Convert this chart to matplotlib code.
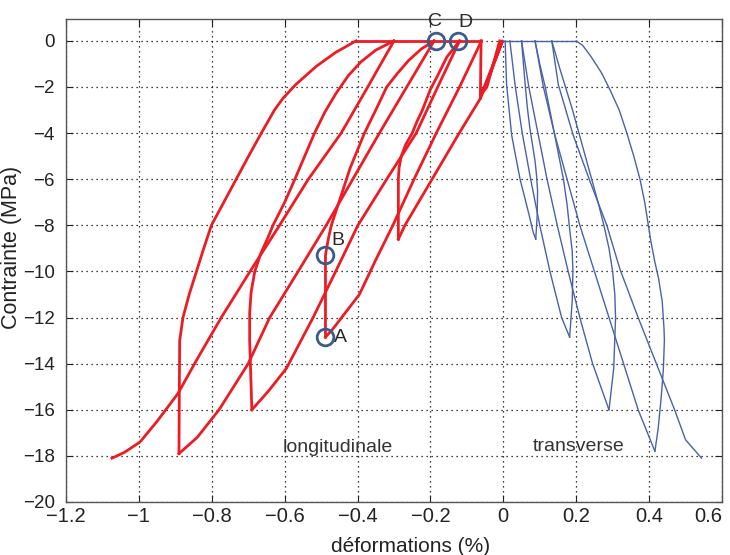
import matplotlib
matplotlib.use("Agg")
import matplotlib.pyplot as plt

# longitudinal strain (%) / stress (MPa), one list per branch
lg_small_x = [-0.061, -0.063, -0.040, -0.002, -0.030, -0.060, -0.045, -0.010]
lg_small_y = [0, -2.5, -1.6, 0, -1.1, -2.3, -2.0, 0]
lg_flat_x = [-0.404, -0.061]
lg_flat_y = [0, 0]

lg_load2_x = [-0.063, -0.121, -0.27, -0.288]
lg_load2_y = [-2.5, -4.0, -8.0, -8.6]
lg_unl2_x = [-0.288, -0.288, -0.286, -0.28, -0.268, -0.25, -0.237, -0.222, -0.2, -0.18, -0.155, -0.12]
lg_unl2_y = [-8.6, -6.0, -5.5, -5.0, -4.5, -4.0, -3.5, -3.0, -2.1, -1.5, -0.7, 0]

lg_load3_x = [-0.06, -0.12, -0.184, -0.245, -0.303, -0.35, -0.395, -0.468, -0.488]
lg_load3_y = [0, -2.0, -4.0, -6.0, -8.0, -9.5, -11.0, -12.5, -12.85]
lg_unl3_x = [-0.488, -0.488, -0.485, -0.479, -0.472, -0.449, -0.42, -0.381, -0.35, -0.32, -0.29, -0.26, -0.225, -0.19]
lg_unl3_y = [-12.85, -9.3, -9.0, -8.5, -8.0, -6.9, -5.5, -4.0, -3.0, -2.0, -1.4, -0.85, -0.35, 0]

lg_load4_x = [-0.12, -0.18, -0.239, -0.32, -0.399, -0.46, -0.522, -0.595, -0.645, -0.69]
lg_load4_y = [0, -2.0, -4.0, -6.0, -8.0, -10.0, -12.0, -14.2, -15.2, -16.0]
lg_unl4_x = [-0.69, -0.693, -0.696, -0.696, -0.692, -0.682, -0.665, -0.645, -0.632, -0.6,
             -0.572, -0.545, -0.518, -0.49, -0.46, -0.425, -0.39, -0.35, -0.30]
lg_unl4_y = [-16.0, -14.5, -13.0, -11.8, -10.9, -10.0, -9.2, -8.5, -8.0, -7.0,
             -6.0, -5.0, -4.0, -3.1, -2.3, -1.5, -0.9, -0.4, 0]

lg_load5_x = [-0.19, -0.265, -0.34, -0.413, -0.486, -0.563, -0.641, -0.70, -0.78, -0.84, -0.89]
lg_load5_y = [0, -2, -4, -6, -8, -10, -12, -14, -16, -17.2, -17.9]
lg_unl5_x = [-0.89, -0.889, -0.888, -0.879, -0.862, -0.842, -0.822, -0.801, -0.767, -0.733,
             -0.699, -0.664, -0.628, -0.605, -0.57, -0.513, -0.46, -0.404]
lg_unl5_y = [-17.9, -15.0, -13.0, -12.0, -11.0, -10.0, -9.0, -8.0, -7.0, -6.0,
             -5.0, -4.0, -3.0, -2.5, -1.9, -1.1, -0.5, 0]

lg_load6_x = [-0.30, -0.372, -0.445, -0.535, -0.614, -0.695, -0.774, -0.84, -0.893, -0.95, -0.997, -1.04, -1.074]
lg_load6_y = [0, -2, -4, -6, -8, -10, -12, -13.8, -15.3, -16.5, -17.4, -17.85, -18.1]

# transverse strain
tr_flat_x = [0.0, 0.2]
tr_flat_y = [0, 0]
tr_load2_x = [0.005, 0.009, 0.023, 0.046, 0.070, 0.082, 0.089]
tr_load2_y = [0, -1.9, -4.1, -6.0, -7.5, -8.3, -8.6]
tr_unl2_x = [0.089, 0.093, 0.094, 0.091, 0.087, 0.08, 0.073, 0.066, 0.06, 0.05]
tr_unl2_y = [-8.6, -7.56, -6.5, -5.8, -5.2, -4.5, -3.8, -2.9, -1.9, 0]
tr_load3_x = [0.018, 0.033, 0.052, 0.075, 0.10, 0.128, 0.16, 0.182]
tr_load3_y = [0, -2, -4, -6, -8, -10, -12, -12.85]
tr_unl3_x = [0.182, 0.189, 0.191, 0.189, 0.183, 0.175, 0.165, 0.14, 0.115, 0.1, 0.087]
tr_unl3_y = [-12.85, -11.3, -10.0, -9.1, -8.3, -7.1, -6.0, -4.0, -2.0, -1.0, 0]
tr_load4_x = [0.05, 0.07, 0.095, 0.12, 0.148, 0.178, 0.21, 0.245, 0.29]
tr_load4_y = [0, -2, -4, -6, -8, -10, -12, -14, -16]
tr_unl4_x = [0.29, 0.303, 0.308, 0.306, 0.3, 0.29, 0.276, 0.26, 0.225, 0.19, 0.155, 0.133]
tr_unl4_y = [-16, -14.2, -12.0, -11.0, -10.0, -9.0, -8.0, -7.0, -5.0, -3.0, -1.2, 0]
tr_load5_x = [0.087, 0.11, 0.14, 0.175, 0.21, 0.25, 0.29, 0.33, 0.37, 0.416]
tr_load5_y = [0, -2, -4, -6, -8, -10, -12, -14, -16, -17.8]
tr_unl5_x = [0.416, 0.425, 0.433, 0.439, 0.442, 0.441, 0.436, 0.426, 0.416, 0.405, 0.398, 0.388,
             0.375, 0.358, 0.339, 0.318, 0.295, 0.27, 0.238, 0.218, 0.2]
tr_unl5_y = [-17.8, -16.8, -15.5, -14.3, -13.0, -12.5, -11.3, -10.3, -9.6, -8.7, -8.0, -7.0,
             -6.0, -5.0, -4.0, -3.0, -2.2, -1.4, -0.62, -0.2, 0]
tr_load6_x = [0.133, 0.151, 0.192, 0.238, 0.284, 0.32, 0.37, 0.42, 0.47, 0.50, 0.544]
tr_load6_y = [0, -1.9, -4.1, -6.1, -8.0, -9.9, -12.0, -14.0, -16.0, -17.3, -18.1]

# marked points A, B, C, D
pt_names = ["A", "B", "C", "D"]
pt_x = [-0.488, -0.49, -0.185, -0.125]
pt_y = [-12.85, -9.3, 0.0, 0.0]

xticks = [-1.2, -1, -0.8, -0.6, -0.4, -0.2, 0, 0.2, 0.4, 0.6]
xtick_labels = ["\u22121.2", "\u22121", "\u22120.8", "\u22120.6", "\u22120.4", "\u22120.2", "0", "0.2", "0.4", "0.6"]
yticks = list(range(-20, 1, 2))
ytick_labels = [("\u2212%d" % -v) if v < 0 else "0" for v in yticks]

plt.rcParams['font.family'] = ['Liberation Sans Narrow', 'Liberation Sans', 'DejaVu Sans']

fig = plt.figure(figsize=(7.30, 5.55), dpi=100)
ax = fig.add_axes([0.0904, 0.0955, 0.8986, 0.8703])

red = "#ec1c24"
blue = "#4a62a8"

long_x = [lg_small_x, lg_flat_x, lg_load2_x, lg_unl2_x, lg_load3_x, lg_unl3_x,
          lg_load4_x, lg_unl4_x, lg_load5_x, lg_unl5_x, lg_load6_x]
long_y = [lg_small_y, lg_flat_y, lg_load2_y, lg_unl2_y, lg_load3_y, lg_unl3_y,
          lg_load4_y, lg_unl4_y, lg_load5_y, lg_unl5_y, lg_load6_y]
for xs, ys in zip(long_x, long_y):
    ax.plot(xs, ys, color=red, lw=2.0, solid_joinstyle="round", zorder=3)

trans_x = [tr_flat_x, tr_load2_x, tr_unl2_x, tr_load3_x, tr_unl3_x, tr_load4_x,
           tr_unl4_x, tr_load5_x, tr_unl5_x, tr_load6_x]
trans_y = [tr_flat_y, tr_load2_y, tr_unl2_y, tr_load3_y, tr_unl3_y, tr_load4_y,
           tr_unl4_y, tr_load5_y, tr_unl5_y, tr_load6_y]
for xs, ys in zip(trans_x, trans_y):
    ax.plot(xs, ys, color=blue, lw=1.0, zorder=3)

ax.plot(pt_x, pt_y, ls="none", marker="o", ms=12, mfc="none", mec="#3b5b8c", mew=2.0, zorder=4)
label_dx = [0.022, 0.018, -0.003, 0.02]
label_dy = [0.0, 0.65, 0.85, 0.8]
for name, x, y, dx, dy in zip(pt_names, pt_x, pt_y, label_dx, label_dy):
    ax.text(x + dx, y + dy, name, fontsize=14, color="#2a2a2a",
            ha="center" if name in "CD" else "left", va="center", zorder=5)

ax.text(-0.455, -17.65, "longitudinale", fontsize=14, color="#333333", ha="center", va="center")
ax.text(0.208, -17.6, "transverse", fontsize=14, color="#333333", ha="center", va="center")

ax.set_xlim(-1.2, 0.6)
ax.set_ylim(-20, 0.95)
ax.set_xticks(xticks)
ax.set_xticklabels(xtick_labels)
ax.set_yticks(yticks)
ax.set_yticklabels(ytick_labels)
ax.tick_params(direction="in", top=True, right=True, length=5, labelsize=14.5, colors="#222222")
ax.tick_params(axis="y", pad=8, labelsize=13.5)
ax.get_xticklabels()[-1].set_horizontalalignment("right")
ax.grid(True, color="black", ls=(0, (1, 3)), lw=0.9)
for s in ax.spines.values():
    s.set_color("#555555")
    s.set_linewidth(1.0)

ax.set_xlabel("d\u00e9formations (%)", fontsize=15, color="#222222")
ax.xaxis.set_label_coords(0.526, -0.072)
ax.set_ylabel("Contrainte (MPa)", fontsize=15.5, color="#222222")
ax.yaxis.set_label_coords(-0.067, 0.526)

fig.savefig("out.png", dpi=100)
